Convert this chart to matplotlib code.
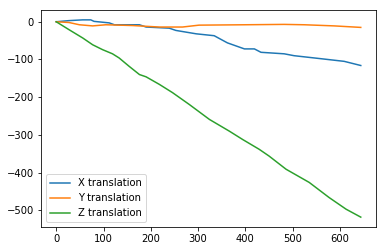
import matplotlib
matplotlib.use("Agg")
import matplotlib.pyplot as plt

# frame index vs translation
x_frames = [0, 27, 56, 73, 80, 112, 123, 176, 190, 239, 253, 296, 334, 362, 398,
            419, 433, 482, 503, 560, 609, 644]
x_trans = [0, 3, 5, 5, 1, -3, -8, -8, -14, -17, -23, -32, -37, -56, -72,
           -72, -81, -85, -90, -98, -105, -116]

y_frames = [0, 27, 49, 77, 105, 161, 218, 267, 302, 398, 482, 525, 588, 644]
y_trans = [0, -2, -8, -11, -8, -10, -14, -14, -9, -8, -7, -8, -11, -15]

z_frames = [0, 27, 56, 77, 98, 119, 133, 154, 176, 190, 218, 246, 281, 324, 366,
            394, 429, 450, 486, 535, 577, 613, 644]
z_trans = [0, -21, -43, -61, -74, -85, -96, -118, -140, -146, -166, -188, -219, -259, -290,
           -312, -338, -356, -391, -426, -466, -497, -518]

fig = plt.figure(figsize=(386 / 72, 252 / 72), dpi=72)
ax = fig.add_axes([41 / 386, 1 - 227 / 252, 335 / 386, 217 / 252])

ax.plot(x_frames, x_trans, label="X translation")
ax.plot(y_frames, y_trans, label="Y translation")
ax.plot(z_frames, z_trans, label="Z translation")
ax.legend(loc="lower left")

fig.savefig("out.png", dpi=72)
